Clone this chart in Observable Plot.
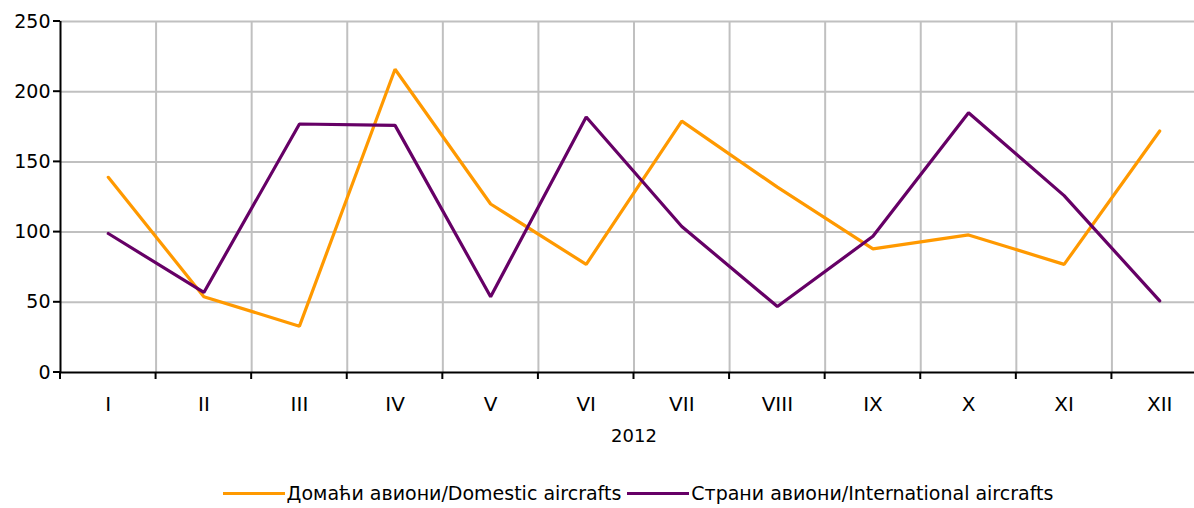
<!DOCTYPE html>
<html><head><meta charset="utf-8">
<script src="https://cdn.jsdelivr.net/npm/d3@7"></script>
<script src="https://cdn.jsdelivr.net/npm/@observablehq/plot@0.6"></script>
<style>
html,body{margin:0;padding:0;background:#fff;overflow:hidden;width:1194px;height:508px;}
#chart svg{overflow:hidden;display:block;}
#legend{height:30px;line-height:30px;margin-top:3px;text-align:center;font-family:"DejaVu Sans",sans-serif;font-size:19px;color:#000;white-space:nowrap;padding-left:82px;}
.sw{display:inline-block;width:62px;height:3px;vertical-align:middle;margin-right:2px;position:relative;top:-1px;}
</style></head>
<body>
<div id="chart"></div>
<div id="legend"></div>
<script>
const months = ["I","II","III","IV","V","VI","VII","VIII","IX","X","XI","XII"];
const domestic = [139, 54, 33, 216, 120, 77, 179, 132, 88, 98, 77, 172];
const international = [99, 57, 177, 176, 54, 182, 104, 47, 97, 185, 126, 51];
const seriesNames = ["Домаћи авиони/Domestic aircrafts", "Страни авиони/International aircrafts"];
const seriesColors = ["#FF9900", "#660066"];
const yTicks = [0, 50, 100, 150, 200, 250];
const yearLabel = "2012";

const rows = [];
months.forEach((m, i) => {
  rows.push({i, v: domestic[i], s: seriesNames[0]});
  rows.push({i, v: international[i], s: seriesNames[1]});
});
const centers = months.map((m, i) => i);
const bounds = months.map((m, i) => i - 0.5);
const innerBounds = bounds.slice(1);

const font = '"DejaVu Sans",sans-serif';
const W = 1194, H = 475;
const chart = Plot.plot({
  width: W, height: H,
  marginLeft: 60, marginTop: 21, marginBottom: H - 372, marginRight: 0,
  style: {fontFamily: font, fontSize: "19px", color: "#000", background: "#fff"},
  x: {type: "linear", domain: [-0.5, 11.5], range: [60, 1207], axis: null},
  y: {domain: [0, 250], axis: null},
  color: {domain: seriesNames, range: seriesColors},
  marks: [
    Plot.ruleY(yTicks.filter(d => d > 0), {stroke: "#c0c0c0", strokeWidth: 2}),
    Plot.ruleX(innerBounds, {stroke: "#c0c0c0", strokeWidth: 2, y1: 0, y2: 250}),
    Plot.line(rows, {x: "i", y: "v", z: "s", stroke: "s", strokeWidth: 3.2, strokeLinejoin: "miter"}),
    Plot.ruleY([0], {stroke: "#000", strokeWidth: 2}),
    Plot.ruleX([-0.5], {stroke: "#000", strokeWidth: 2, y1: 0, y2: 250}),
    Plot.text(yTicks, {x: -0.5, y: d => d, text: d => String(d), textAnchor: "end", dx: -10, fontSize: 19}),
    Plot.text(centers, {x: d => d, y: 0, text: d => months[d], dy: 32, fontSize: 20}),
    Plot.text([yearLabel], {x: 5.5, y: 0, text: d => d, dy: 64, fontSize: 18})
  ]
});
document.getElementById("chart").appendChild(chart);

// tick marks positioned through the chart's scales
const xs = chart.scale("x"), ys = chart.scale("y");
const svg = d3.select(chart);
const y0 = ys.apply(0);
svg.append("g").selectAll("line").data(bounds).join("line")
  .attr("x1", d => xs.apply(d)).attr("x2", d => xs.apply(d))
  .attr("y1", y0).attr("y2", y0 + 7).attr("stroke", "#000").attr("stroke-width", 2);
svg.append("g").selectAll("line").data(yTicks).join("line")
  .attr("x1", xs.apply(-0.5) - 7).attr("x2", xs.apply(-0.5))
  .attr("y1", d => ys.apply(d)).attr("y2", d => ys.apply(d)).attr("stroke", "#000").attr("stroke-width", 2);

const leg = document.getElementById("legend");
seriesNames.forEach((n, k) => {
  const sw = document.createElement("span");
  sw.className = "sw"; sw.style.background = seriesColors[k];
  leg.appendChild(sw);
  const t = document.createElement("span");
  t.textContent = n; t.style.marginRight = k === 0 ? "6px" : "0";
  leg.appendChild(t);
});
</script>
</body></html>
